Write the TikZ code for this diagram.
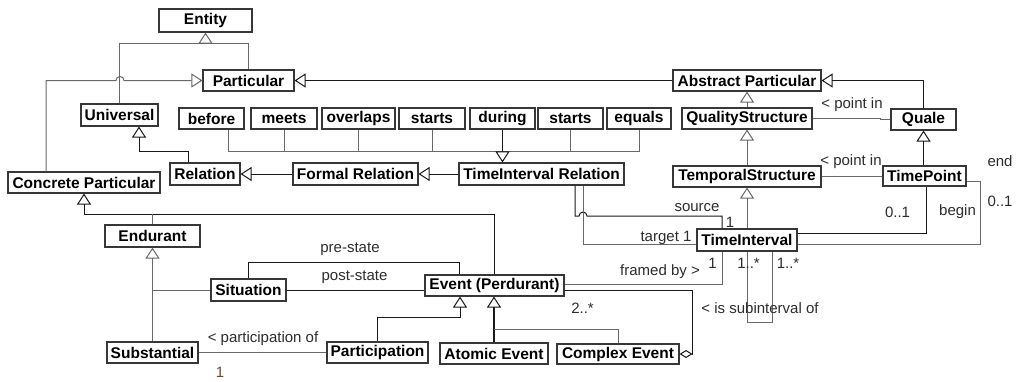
\documentclass[tikz,border=0pt]{standalone}
\usepackage{fontspec}
\setmainfont{Liberation Sans}
\usetikzlibrary{arrows.meta}
\definecolor{boxline}{RGB}{55,55,55}
\definecolor{lgray}{RGB}{105,105,105}
\definecolor{ldark}{RGB}{25,25,25}
\definecolor{lbl}{RGB}{45,45,45}
\definecolor{brown1}{RGB}{120,70,40}
\begin{document}
\begin{tikzpicture}[x=1pt,y=-1pt,
  cls/.style={draw=boxline,line width=1.1pt,fill=white,inner sep=0pt,
    minimum height=21pt,font=\fontsize{15.5}{17}\selectfont\bfseries},
  ln/.style={draw=lgray,line width=1pt},
  dk/.style={draw=ldark,line width=1pt},
  gen/.style={-{Triangle[open,length=11pt,width=14pt,line width=1pt]}},
  agg/.style={-{Diamond[open,length=13pt,width=8pt,line width=1pt]}},
  lab/.style={text=lbl,inner sep=0pt,font=\fontsize{15}{17}\selectfont}]
\useasboundingbox[fill=white] (0,0) rectangle (1016,381);

% classes
\node[cls,minimum width=93pt,minimum height=23pt] (entity) at (205.5,20.5) {Entity};
\node[cls,minimum width=91pt] (particular) at (248.5,80.5) {Particular};
\node[cls,minimum width=148pt] (abstract) at (747,80.5) {Abstract Particular};
\node[cls,minimum width=77pt,minimum height=22pt] (universal) at (119.5,115) {Universal};
\node[cls,minimum width=65pt] (before) at (211.5,118.5) {before};
\node[cls,minimum width=66pt] (meets) at (284,118.5) {meets};
\node[cls,minimum width=73pt] (overlaps) at (358.5,118.5) {overlaps};
\node[cls,minimum width=66pt] (startsA) at (432,118.5) {starts};
\node[cls,minimum width=65pt] (during) at (502.5,118.5) {during};
\node[cls,minimum width=65pt] (startsB) at (570.5,118.5) {starts};
\node[cls,minimum width=64pt] (equals) at (639,118.5) {equals};
\node[cls,minimum width=130pt] (quality) at (747,118.5) {QualityStructure};
\node[cls,minimum width=65pt] (quale) at (923.5,119.5) {Quale};
\node[cls,minimum width=70pt,minimum height=22pt] (relation) at (205,174) {Relation};
\node[cls,minimum width=125pt,minimum height=22pt] (formal) at (355.5,174) {Formal Relation};
\node[cls,minimum width=165pt,minimum height=22pt] (tir) at (541.5,174) {TimeInterval Relation};
\node[cls,minimum width=152pt] (concrete) at (84,182.5) {Concrete Particular};
\node[cls,minimum width=148pt] (temporal) at (747,176.5) {TemporalStructure};
\node[cls,minimum width=83pt,minimum height=20pt] (timepoint) at (924.5,176) {TimePoint};
\node[cls,minimum width=95pt,minimum height=22pt] (endurant) at (152.5,236) {Endurant};
\node[cls,minimum width=100pt,minimum height=22pt] (timeint) at (747,240) {TimeInterval};
\node[cls,minimum width=75pt,minimum height=22pt] (situation) at (248.5,290) {Situation};
\node[cls,minimum width=139pt] (event) at (494.5,285.5) {Event (Perdurant)};
\node[cls,minimum width=91pt] (substantial) at (152.5,352.5) {Substantial};
\node[cls,minimum width=101pt] (participation) at (377.5,352.5) {Participation};
\node[cls,minimum width=108pt] (atomic) at (494,353.5) {Atomic Event};
\node[cls,minimum width=122pt,minimum height=20pt] (complex) at (618,354) {Complex Event};

% generalisation tree under Entity
\draw[ln] (universal.north) |- (205.5,43);
\draw[ln,gen] (particular.north) |- (205.5,43) -- (entity.south);
\draw[ln,gen] ([xshift=-38pt]concrete.north) -- (46,80.5) -- (116,80.5)
  arc[start angle=180,end angle=360,radius=4] -- (particular.west);
\draw[dk,gen] (abstract.west) -- (particular.east);
\draw[dk,gen] ([xshift=-17pt]relation.north) |- (139,151) -- ([xshift=19.5pt]universal.south);
\draw[dk,gen] (formal.west) -- (relation.east);
\draw[dk,gen] (tir.west) -- (formal.east);

% interval relations
\draw[ln] ([xshift=16.5pt]before.south) -- (228,151) -- (639,151) -- (equals.south);
\draw[ln] (meets.south) -- (284,151);
\draw[ln] (overlaps.south) -- (358.5,151);
\draw[ln] (startsA.south) -- (432,151);
\draw[ln] (startsB.south) -- (570.5,151);
\draw[dk,gen] (during.south) -- (during.south |- tir.north);

% abstract side
\draw[ln,gen] (quality.north) -- (abstract.south);
\draw[ln,gen] (temporal.north) -- (quality.south);
\draw[ln,gen] (timeint.north) -- (temporal.south);
\draw[dk,gen] (quale.north) |- (abstract.east);
\draw[dk,gen] (timepoint.north -| quale.south) -- (quale.south);
\draw[ln] (quality.east) -- (880,118.5) -- (880,119.5) -- (quale.west);
\node[lab] (lpq) at (852,105) {< point in};
\draw[ln] (temporal.east) -- (833,176.5) -- (833,176) -- (timepoint.west);
\node[lab] (lpt) at (851,162) {< point in};

% time point ends
\draw[dk] ([xshift=1.5pt]timepoint.south) -- (926,233) -- ([yshift=7pt]timeint.east);
\node[lab] (lb1) at (897.5,212) {0..1};
\node[lab] (lbeg) at (957.5,212) {begin};
\draw[ln] ([yshift=-5pt]timepoint.east) -- (980,181) -- (980,244) -- ([yshift=-4pt]timeint.east);
\node[lab] (lend) at (1000,161) {end};
\node[lab] (le1) at (1000,201) {0..1};

% source / target of interval relations
\draw[dk] ([xshift=33.5pt]tir.south) -- (575,216) -- (579,216)
  arc[start angle=180,end angle=360,radius=4] -- (722,216) -- ([xshift=-25pt]timeint.north);
\node[lab] (lsrc) at (697,207.5) {source};
\node[lab] (ls1) at (730,222) {1};
\draw[ln] ([xshift=41.5pt]tir.south) -- (583,244) -- ([yshift=-4pt]timeint.west);
\node[lab] (ltgt) at (666,238) {target 1};

% subinterval loop
\draw[ln] (timeint.south) -- (747,322) -- (772,322) -- ([xshift=25pt]timeint.south);
\node[lab] (lm1) at (748.5,263) {1..*};
\node[lab] (lm2) at (788,263) {1..*};
\node[lab] (lsub) at (760,308) {< is subinterval of};

% events and time intervals
\draw[ln] ([yshift=1.5pt]event.east) -- (722,284) -- ([xshift=-25pt]timeint.south);
\node[lab] (lfr) at (660,272) {framed by >};
\node[lab] (lf1) at (712.5,263) {1};
\draw[dk,agg] ([yshift=-4.5pt]event.east) -- (692,290) -- (692,354) -- (complex.east);
\node[lab] (l2m) at (582.5,308) {2..*};

% concrete side
\draw[dk,gen] (event.north) |- (84,214) -- (concrete.south);
\draw[ln] (endurant.north) -- (152.5,214);
\draw[ln,gen] (substantial.north) -- (endurant.south);
\draw[ln] (situation.west) -- (152.5,290);
\draw[dk] (situation.north) |- (459,262) -- ([xshift=-35.5pt]event.north);
\node[lab] (lpre) at (350,249) {pre-state};
\draw[dk] (situation.east) -- (situation.east -| event.west);
\node[lab] (lpost) at (354.5,277.5) {post-state};
\draw[dk,gen] (participation.north) |- (460,317) -- ([xshift=-34.5pt]event.south);
\draw[dk,gen,line width=1.6pt] (atomic.north) -- (atomic.north |- event.south);
\draw[ln] (complex.north) |- (494,329);
\draw[ln] (substantial.east) -- (participation.west);
\node[lab] (lpart) at (263,339) {< participation of};
\node[lab,text=brown1] (lp1) at (220,372.5) {1};
\end{tikzpicture}
\end{document}
